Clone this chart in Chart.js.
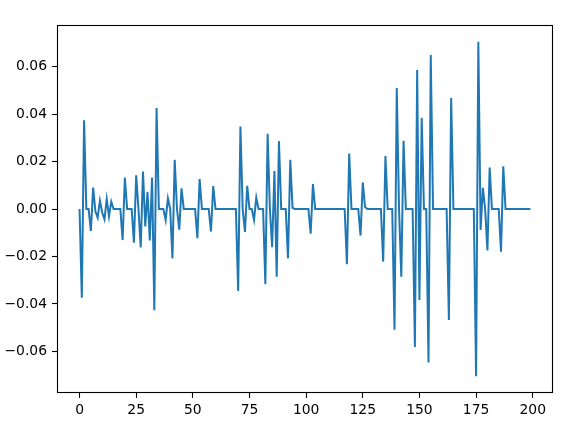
<!DOCTYPE html>
<html>
<head>
<meta charset="utf-8">
<script src="https://cdn.jsdelivr.net/npm/chart.js@4"></script>
<style>
  html, body { margin: 0; padding: 0; background: #fff; }
  #chart { display: block; }
</style>
</head>
<body>
<canvas id="chart" width="561" height="423"></canvas>
<script>
// series values, one per step 0..199
const values = [
  0, -0.0374, 0.0374, 0, 0, -0.0093, 0.0090, -0.0010, -0.0037, 0.0035,
  -0.0015, -0.0044, 0.0042, -0.0031, 0.0031, 0, 0, 0, 0, -0.0131,
  0.0132, 0, 0, 0, -0.0142, 0.0142, 0, -0.0162, 0.0158, -0.0074,
  0.0072, -0.0133, 0.0133, -0.0427, 0.0426, 0, 0, 0, -0.0046, 0.0045,
  0, -0.0208, 0.0207, 0, -0.0087, 0.0087, 0, 0, 0, 0,
  0, 0, -0.0123, 0.0126, 0, 0, 0, 0, -0.0095, 0.0097,
  0, 0, 0, 0, 0, 0, 0, 0, 0, 0,
  -0.0346, 0.0348, 0, -0.0097, 0.0098, 0, 0, -0.0046, 0.0048, 0,
  0, 0, -0.0317, 0.0317, 0, -0.0161, 0.0160, -0.0285, 0.0286, 0,
  0, 0, -0.0208, 0.0207, 0.0005, 0, 0, 0, 0, 0,
  0, 0, -0.0104, 0.0105, 0, 0, 0, 0, 0, 0,
  0, 0, 0, 0, 0, 0, 0, 0, -0.0233, 0.0234,
  0, 0, 0, 0, -0.0112, 0.0112, 0.0008, 0, 0, 0,
  0, 0, 0, 0, -0.0222, 0.0223, 0, 0, 0, -0.0509,
  0.0510, 0, -0.0285, 0.0288, 0, 0, 0, 0, -0.0582, 0.0586,
  -0.0384, 0.0384, 0, 0, -0.0647, 0.0649, 0, 0, 0, 0,
  0, 0, 0, -0.0468, 0.0468, 0, 0, 0, 0, 0,
  0, 0, 0, 0, 0, -0.0705, 0.0705, -0.0088, 0.0089, 0,
  -0.0175, 0.0175, 0, 0, 0, 0, -0.0180, 0.0180, 0, 0,
  0, 0, 0, 0, 0, 0, 0, 0, 0, 0
];

const xTicks = [0, 25, 50, 75, 100, 125, 150, 175, 200];
const yTicks = [-0.06, -0.04, -0.02, 0.00, 0.02, 0.04, 0.06];

const points = values.map((v, i) => ({ x: i, y: v }));

const tickFont = { family: 'DejaVu Sans', size: 13.9 };

// matplotlib style closed frame around the plot area
const framePlugin = {
  id: 'frame',
  afterDraw(chart) {
    const a = chart.chartArea;
    const ctx = chart.ctx;
    ctx.save();
    ctx.strokeStyle = '#000';
    ctx.lineWidth = 1.1;
    ctx.strokeRect(Math.round(a.left) + 0.5, Math.round(a.top) + 0.5,
      Math.round(a.right - a.left) - 1, Math.round(a.bottom - a.top) - 1);
    ctx.restore();
  }
};

new Chart(document.getElementById('chart'), {
  type: 'line',
  data: {
    datasets: [{
      data: points,
      borderColor: '#1f77b4',
      borderWidth: 2,
      pointRadius: 0,
      tension: 0,
      fill: false
    }]
  },
  options: {
    responsive: false,
    animation: false,
    devicePixelRatio: 1,
    layout: { padding: { top: 25, right: 8, left: 0, bottom: 0 } },
    plugins: {
      legend: { display: false },
      tooltip: { enabled: false }
    },
    scales: {
      x: {
        type: 'linear',
        min: -9.95,
        max: 208.95,
        afterBuildTicks: axis => { axis.ticks = xTicks.map(v => ({ value: v })); },
        afterFit: scale => { scale.height = 30; },
        ticks: {
          color: '#000',
          font: tickFont,
          padding: 4,
          maxRotation: 0,
          autoSkip: false,
          callback: v => String(v)
        },
        grid: { drawOnChartArea: false, drawTicks: true, tickLength: 5, tickColor: '#000', tickWidth: 1.1 },
        border: { display: false }
      },
      y: {
        type: 'linear',
        min: -0.07755,
        max: 0.07755,
        afterBuildTicks: axis => { axis.ticks = yTicks.map(v => ({ value: v })); },
        afterFit: scale => { scale.width = 57; },
        ticks: {
          color: '#000',
          font: tickFont,
          padding: 5,
          autoSkip: false,
          callback: v => (v < 0 ? '\u2212' : '') + Math.abs(v).toFixed(2)
        },
        grid: { drawOnChartArea: false, drawTicks: true, tickLength: 5, tickColor: '#000', tickWidth: 1.1 },
        border: { display: false }
      }
    }
  },
  plugins: [framePlugin]
});
</script>
</body>
</html>
